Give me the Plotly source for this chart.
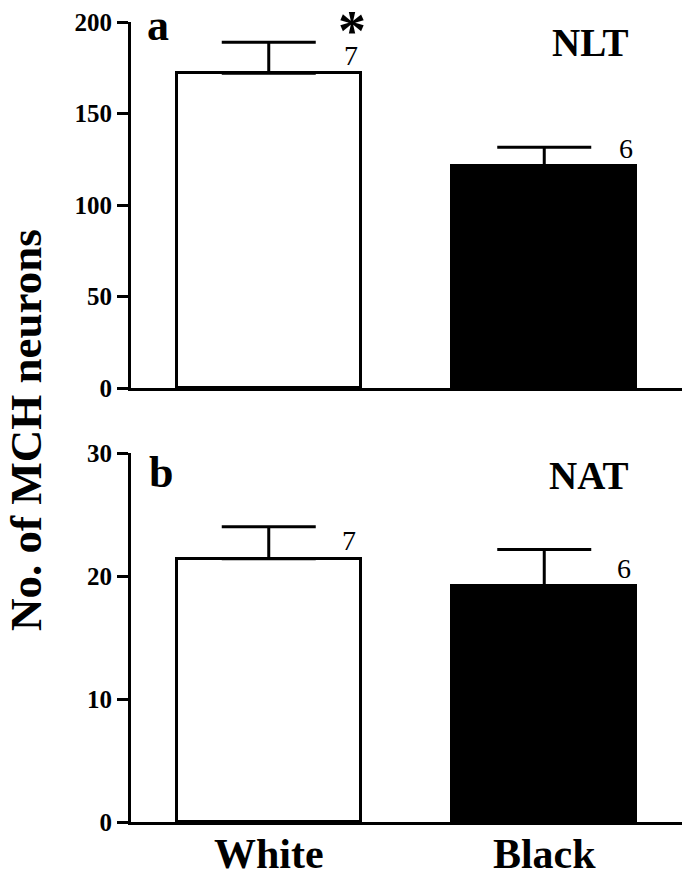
import plotly.graph_objects as go

categories = ["White", "Black"]
nlt_mean = [172.0, 121.3]
nlt_sem = [17.0, 10.2]
nat_mean = [21.4, 19.15]
nat_sem = [2.6, 3.0]
n_labels = ["7", "6"]
bar_colors = ["white", "black"]
nlt_ticks = [0, 50, 100, 150, 200]
nat_ticks = [0, 10, 20, 30]

W, H = 685, 879
def px(x):
    return x / W
def py(y):
    return 1 - y / H

FONT = "Liberation Serif"

fig = go.Figure()

err_style = dict(type="data", symmetric=False, thickness=3, width=47, color="black")

fig.add_trace(go.Bar(
    x=categories, y=nlt_mean, width=0.668,
    marker=dict(color=bar_colors, line=dict(color="black", width=3)),
    error_y=dict(array=nlt_sem, arrayminus=[0, 0], **err_style),
    xaxis="x", yaxis="y", showlegend=False, hoverinfo="skip",
))
fig.add_trace(go.Bar(
    x=categories, y=nat_mean, width=0.668,
    marker=dict(color=bar_colors, line=dict(color="black", width=3)),
    error_y=dict(array=nat_sem, arrayminus=[0, 0], **err_style),
    xaxis="x2", yaxis="y2", showlegend=False, hoverinfo="skip",
))

xdom = [px(131), px(682)]
axis_common = dict(showline=True, linecolor="black", linewidth=3, showgrid=False, zeroline=False,
                   automargin=False)
tickfont = dict(family=FONT, size=25, color="black", weight="bold")

fig.update_layout(
    template="none",
    width=W, height=H,
    margin=dict(l=0, r=0, t=0, b=0, pad=0),
    paper_bgcolor="white", plot_bgcolor="white",
    bargap=0,
    xaxis=dict(domain=xdom, anchor="y", range=[-0.5, 1.5], showticklabels=False, ticks="", **axis_common),
    yaxis=dict(domain=[py(388), py(22)], anchor="x", range=[0, 200], tickvals=nlt_ticks,
               ticks="outside", ticklen=11, tickwidth=3, tickcolor="black", tickfont=tickfont, **axis_common),
    xaxis2=dict(domain=xdom, anchor="y2", range=[-0.5, 1.5], ticks="", showticklabels=True,
                tickfont=dict(family=FONT, size=42, color="black", weight="bold"), ticklabelstandoff=-7,
                **axis_common),
    yaxis2=dict(domain=[py(822), py(453)], anchor="x2", range=[0, 30], tickvals=nat_ticks,
                ticks="outside", ticklen=11, tickwidth=3, tickcolor="black", tickfont=tickfont, **axis_common),
)

def txt(**kw):
    d = dict(showarrow=False, xanchor="center", yanchor="middle")
    d.update(kw)
    return d

ann = []
# n labels
for i, c in enumerate(categories):
    ann.append(txt(x=c, y=nlt_mean[i], xref="x", yref="y", text=n_labels[i],
                   xshift=82, yshift=18, font=dict(family=FONT, size=28, color="black")))
    ann.append(txt(x=c, y=nat_mean[i], xref="x2", yref="y2", text=n_labels[i],
                   xshift=80, yshift=18, font=dict(family=FONT, size=28, color="black")))
# asterisk
ann.append(txt(x=categories[0], y=nlt_mean[0] + nlt_sem[0], xref="x", yref="y", text="*",
               xshift=83, yshift=11, font=dict(family=FONT, size=56, color="black", weight="bold")))
# panel letters and titles
ann.append(txt(x=px(157.5), y=py(26), xref="paper", yref="paper", text="a",
               font=dict(family=FONT, size=44, color="black", weight="bold")))
ann.append(txt(x=px(161), y=py(472), xref="paper", yref="paper", text="b",
               font=dict(family=FONT, size=44, color="black", weight="bold")))
ann.append(txt(x=px(590), y=py(42), xref="paper", yref="paper", text="NLT",
               font=dict(family=FONT, size=39, color="black", weight="bold")))
ann.append(txt(x=px(588), y=py(475), xref="paper", yref="paper", text="NAT",
               font=dict(family=FONT, size=39, color="black", weight="bold")))
ann.append(txt(x=px(26), y=py(430), xref="paper", yref="paper", text="No. of MCH neurons",
               textangle=-90, font=dict(family=FONT, size=45, color="black", weight="bold")))
fig.update_layout(annotations=ann)

fig.write_html("out.html",
               config={"displayModeBar": False},
               post_script="document.body.style.margin='0';document.body.style.padding='0';"
                           "document.documentElement.style.overflow='hidden';")
